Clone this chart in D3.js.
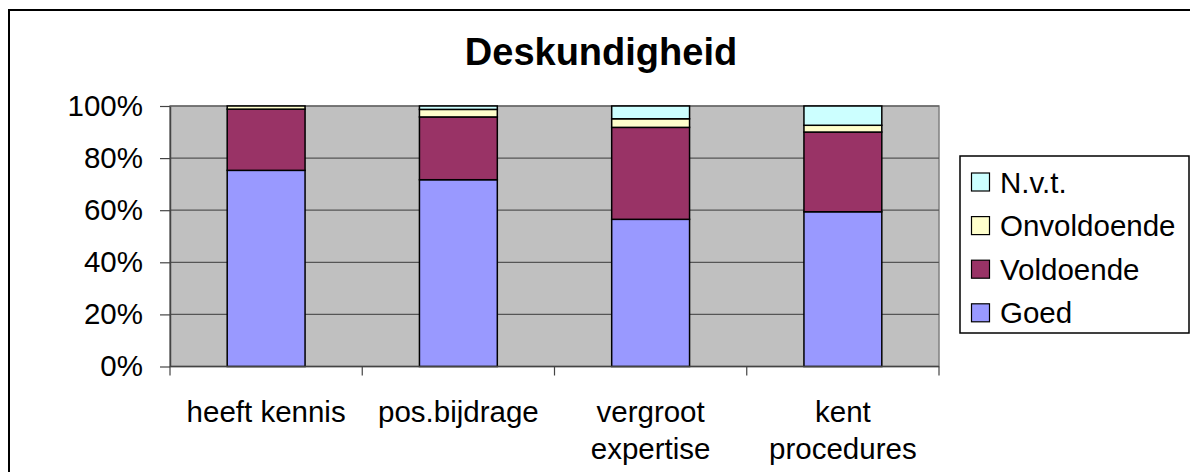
<!DOCTYPE html>
<html>
<head>
<meta charset="utf-8">
<script src="https://cdn.jsdelivr.net/npm/d3@7"></script>
<style>
  body { margin: 0; background: #fff; }
  svg { display: block; font-family: Arial, "Liberation Sans", sans-serif; }
</style>
</head>
<body>
<svg id="chart" width="1190" height="472"></svg>
<script>
//------------------------------------------------------------------------------
// Data (percentages per category)
//------------------------------------------------------------------------------
var categories = ["heeft kennis", "pos.bijdrage", "vergroot expertise", "kent procedures"];
var tickLabels = [["heeft kennis"], ["pos.bijdrage"], ["vergroot", "expertise"], ["kent", "procedures"]];
var seriesNames = ["Goed", "Voldoende", "Onvoldoende", "N.v.t."];
var goed = [75.3, 71.7, 56.5, 59.4];
var voldoende = [23.5, 24.1, 35.3, 30.6];
var onvoldoende = [1.2, 2.9, 3.3, 2.6];
var nvt = [0, 1.3, 4.9, 7.4];
var yTicks = [0, 20, 40, 60, 80, 100];
var colors = ["#9999ff", "#993366", "#ffffcc", "#ccffff"];

var svg = d3.select("#chart");

//------------------------------------------------------------------------------
// Outer chart frame and title
//------------------------------------------------------------------------------
svg.append("rect")
    .attr("x", 9).attr("y", 10)
    .attr("width", 1200).attr("height", 500)
    .attr("fill", "#fff")
    .attr("stroke", "#000")
    .attr("stroke-width", 2);

svg.append("text")
    .attr("x", 601).attr("y", 65)
    .attr("text-anchor", "middle")
    .attr("font-size", 38)
    .attr("font-weight", "bold")
    .text("Deskundigheid");

//------------------------------------------------------------------------------
// Scales
//------------------------------------------------------------------------------
var plot = { left: 170, right: 939, top: 106, bottom: 366.5 };

var x = d3.scaleBand()
    .domain(categories)
    .range([plot.left, plot.right])
    .padding(0);

var y = d3.scaleLinear()
    .domain([0, 100])
    .range([plot.bottom, plot.top]);

var barW = x.bandwidth() * 0.405;

var rows = categories.map(function(c, i) {
    return { cat: c, "Goed": goed[i], "Voldoende": voldoende[i],
             "Onvoldoende": onvoldoende[i], "N.v.t.": nvt[i] };
});
var stacked = d3.stack().keys(seriesNames)(rows);

//------------------------------------------------------------------------------
// Plot area, gridlines
//------------------------------------------------------------------------------
svg.append("rect")
    .attr("x", plot.left).attr("y", plot.top)
    .attr("width", plot.right - plot.left)
    .attr("height", plot.bottom - plot.top)
    .attr("fill", "#c0c0c0")
    .attr("stroke", "#808080")
    .attr("stroke-width", 1.5);

svg.append("g").selectAll("line")
    .data(yTicks.slice(1))
    .enter().append("line")
    .attr("x1", plot.left).attr("x2", plot.right)
    .attr("y1", function(d) { return y(d); })
    .attr("y2", function(d) { return y(d); })
    .attr("stroke", "#555")
    .attr("stroke-width", 1.2);

//------------------------------------------------------------------------------
// Bars
//------------------------------------------------------------------------------
svg.append("g").selectAll("g")
    .data(stacked)
    .enter().append("g")
    .attr("fill", function(d, i) { return colors[i]; })
    .selectAll("rect")
    .data(function(d) { return d.filter(function(p) { return p[1] - p[0] > 0; }); })
    .enter().append("rect")
    .attr("x", function(d) { return x(d.data.cat) + (x.bandwidth() - barW) / 2; })
    .attr("y", function(d) { return y(d[1]); })
    .attr("width", barW)
    .attr("height", function(d) { return y(d[0]) - y(d[1]); })
    .attr("stroke", "#000")
    .attr("stroke-width", 1.5);

//------------------------------------------------------------------------------
// Axes
//------------------------------------------------------------------------------
var yAxis = svg.append("g")
    .attr("transform", "translate(" + plot.left + ",0)")
    .call(d3.axisLeft(y).tickValues(yTicks)
        .tickFormat(function(d) { return d + "%"; })
        .tickSize(10).tickSizeOuter(0).tickPadding(17));
yAxis.select(".domain").attr("stroke", "#444").attr("stroke-width", 1.5);
yAxis.selectAll(".tick line").attr("stroke", "#444").attr("stroke-width", 1.2);
yAxis.selectAll("text")
    .attr("font-size", 29.5)
    .attr("fill", "#000")
    .style("font-family", "Arial, 'Liberation Sans', sans-serif");

var xg = svg.append("g");
xg.append("line")
    .attr("x1", plot.left).attr("x2", plot.right)
    .attr("y1", plot.bottom).attr("y2", plot.bottom)
    .attr("stroke", "#444").attr("stroke-width", 1.5);

var bounds = categories.map(function(c) { return x(c); }).concat([plot.right]);
xg.selectAll("line.tick")
    .data(bounds)
    .enter().append("line")
    .attr("class", "tick")
    .attr("x1", function(d) { return d; })
    .attr("x2", function(d) { return d; })
    .attr("y1", plot.bottom)
    .attr("y2", plot.bottom + 9)
    .attr("stroke", "#444")
    .attr("stroke-width", 1.2);

xg.selectAll("text")
    .data(categories)
    .enter().append("text")
    .attr("x", function(d) { return x(d) + x.bandwidth() / 2; })
    .attr("y", 422)
    .attr("text-anchor", "middle")
    .attr("font-size", 29.5)
    .each(function(d, i) {
        var t = d3.select(this);
        tickLabels[i].forEach(function(line, j) {
            t.append("tspan")
                .attr("x", x(d) + x.bandwidth() / 2)
                .attr("dy", j === 0 ? 0 : 37)
                .text(line);
        });
    });

//------------------------------------------------------------------------------
// Legend (top-down: N.v.t., Onvoldoende, Voldoende, Goed)
//------------------------------------------------------------------------------
var legend = svg.append("g");
legend.append("rect")
    .attr("x", 960).attr("y", 156)
    .attr("width", 229).attr("height", 177)
    .attr("fill", "#fff")
    .attr("stroke", "#000")
    .attr("stroke-width", 1.5);

var legendOrder = seriesNames.slice().reverse();
var item = legend.selectAll("g.item")
    .data(legendOrder)
    .enter().append("g")
    .attr("class", "item")
    .attr("transform", function(d, i) { return "translate(0," + (182 + i * 43.6) + ")"; });

item.append("rect")
    .attr("x", 971.5).attr("y", -9)
    .attr("width", 18).attr("height", 18)
    .attr("fill", function(d) { return colors[seriesNames.indexOf(d)]; })
    .attr("stroke", "#000")
    .attr("stroke-width", 1.2);

item.append("text")
    .attr("x", 1000)
    .attr("y", 10.5)
    .attr("font-size", 29.5)
    .text(function(d) { return d; });
</script>
</body>
</html>
